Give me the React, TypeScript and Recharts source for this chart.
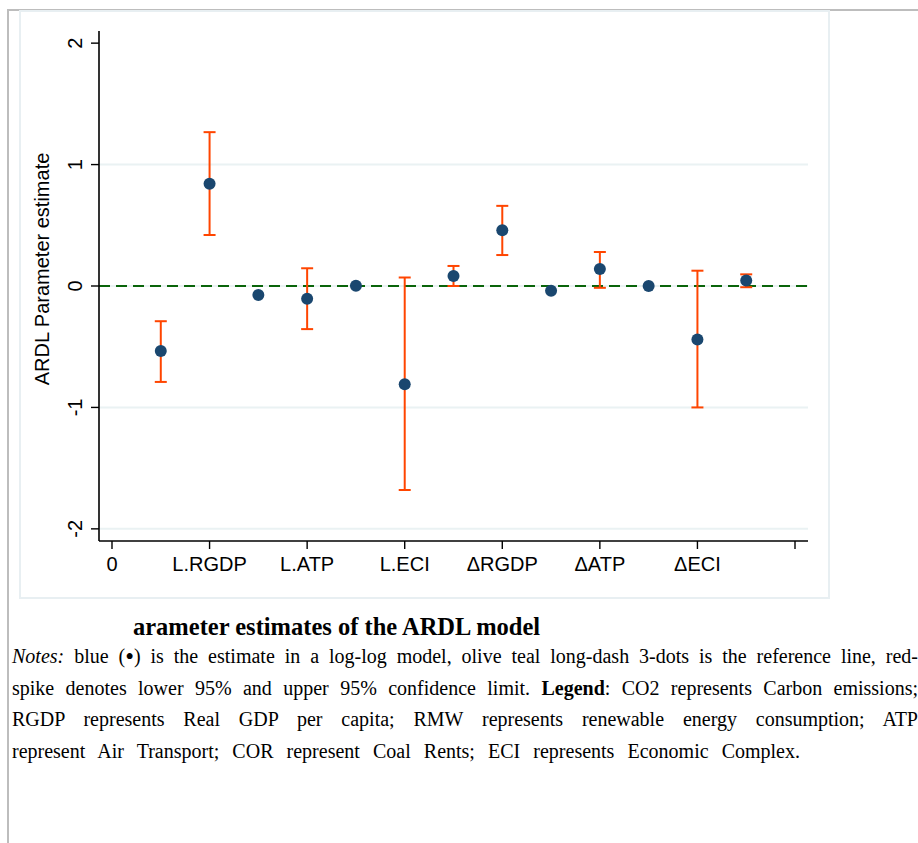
import React from 'react';
import { ComposedChart, Scatter, ErrorBar, XAxis, YAxis, ReferenceLine } from 'recharts';

const xPositions = [0.5, 1, 1.5, 2, 2.5, 3, 3.5, 4, 4.5, 5, 5.5, 6, 6.5];
const estimates = [-0.536, 0.843, -0.075, -0.105, 0.002, -0.81, 0.082, 0.46, -0.04, 0.14, 0.0, -0.44, 0.045];
const lowerCI: (number | null)[] = [-0.79, 0.42, null, -0.355, null, -1.68, 0.0, 0.255, null, -0.015, null, -1.0, -0.01];
const upperCI: (number | null)[] = [-0.29, 1.267, null, 0.146, null, 0.07, 0.165, 0.66, null, 0.28, null, 0.126, 0.096];

const xTickValues = [0, 1, 2, 3, 4, 5, 6, 7];
const xTickLabels = ['0', 'L.RGDP', 'L.ATP', 'L.ECI', '\u0394RGDP', '\u0394ATP', '\u0394ECI', ''];
const yTickValues = [-2, -1, 0, 1, 2];
const gridValues = [-2, -1, 0, 1];

const data = xPositions.map((x, i) => ({
  x,
  est: estimates[i],
  err:
    lowerCI[i] !== null && upperCI[i] !== null
      ? [estimates[i] - (lowerCI[i] as number), (upperCI[i] as number) - estimates[i]]
      : undefined,
}));

const SANS = '"Liberation Sans", Arial, sans-serif';
const SERIF = '"Liberation Serif", "Times New Roman", serif';

const YTick = (props: any) => {
  const { y, payload } = props;
  return (
    <text
      transform={`translate(75,${y}) rotate(-90)`}
      textAnchor="middle"
      dy="0.36em"
      fontFamily={SANS}
      fontSize={20}
      fill="#000"
    >
      {payload.value}
    </text>
  );
};

const Dot = (props: any) => {
  const { cx, cy } = props;
  return <circle cx={cx} cy={cy} r={6} fill="#1a476f" />;
};

const noteLine: React.CSSProperties = {
  height: 31.7,
  lineHeight: '31.7px',
  whiteSpace: 'nowrap',
  textAlign: 'justify',
  textAlignLast: 'justify',
};

export default function App() {
  return (
    <div style={{ position: 'absolute', left: 0, top: 0, width: 918, height: 843, background: '#fff', overflow: 'hidden' }}>
      <div style={{ position: 'absolute', left: 7, top: 9, width: 2, height: 834, background: '#bdbdbd' }} />
      <div style={{ position: 'absolute', left: 7, top: 9, width: 911, height: 2, background: '#bdbdbd' }} />
      <div
        style={{
          position: 'absolute',
          left: 19,
          top: 10,
          width: 811,
          height: 589,
          boxSizing: 'border-box',
          border: '2px solid #e8eff2',
          background: '#fff',
        }}
      />
      <div style={{ position: 'absolute', left: 0, top: 0 }}>
        <ComposedChart width={830} height={600} data={data} margin={{ top: 31, right: 22, bottom: 0, left: 0 }}>
          <XAxis
            dataKey="x"
            type="number"
            domain={[-0.1332, 7.1332]}
            ticks={xTickValues}
            tickFormatter={(v: number) => xTickLabels[xTickValues.indexOf(v)] ?? ''}
            height={59}
            tickSize={8}
            tickMargin={8}
            allowDataOverflow
            stroke="#000"
            axisLine={{ stroke: '#000', strokeWidth: 1.6 }}
            tickLine={{ stroke: '#000', strokeWidth: 1.4 }}
            tick={{ fontFamily: SANS, fontSize: 20, fill: '#000' }}
            interval={0}
          />
          <YAxis
            dataKey="est"
            type="number"
            domain={[-2.1, 2.1]}
            ticks={yTickValues}
            width={99}
            tickSize={8}
            tickMargin={2}
            allowDataOverflow
            axisLine={{ stroke: '#000', strokeWidth: 1.6 }}
            tickLine={{ stroke: '#000', strokeWidth: 1.4 }}
            tick={<YTick />}
            interval={0}
            label={{
              content: () => (
                <text
                  transform="translate(42,269) rotate(-90)"
                  textAnchor="middle"
                  dy="0.36em"
                  fontFamily={SANS}
                  fontSize={20}
                  fill="#000"
                >
                  ARDL Parameter estimate
                </text>
              ),
            }}
          />
          {gridValues.map((g) => (
            <ReferenceLine key={g} y={g} stroke="#eaf2f3" strokeWidth={2} />
          ))}
          <ReferenceLine y={0} stroke="#0a640a" strokeWidth={2} strokeDasharray="11 6" />
          <Scatter dataKey="est" shape={<Dot />} isAnimationActive={false}>
            <ErrorBar dataKey="err" direction="y" width={6} stroke="#ff4500" strokeWidth={2} isAnimationActive={false} />
          </Scatter>
        </ComposedChart>
      </div>
      <div
        style={{
          position: 'absolute',
          left: 133,
          top: 611,
          fontFamily: SERIF,
          fontWeight: 'bold',
          fontSize: 24.5,
          lineHeight: '32px',
          whiteSpace: 'nowrap',
          color: '#000',
        }}
      >
        arameter estimates of the ARDL model
      </div>
      <div
        style={{
          position: 'absolute',
          left: 12,
          top: 641,
          width: 906,
          fontFamily: SERIF,
          fontSize: 20,
          color: '#000',
        }}
      >
        <div style={noteLine}>
          <i>Notes:</i> blue (<span style={{ fontSize: '1.25em', lineHeight: '10px', verticalAlign: '-2px' }}>•</span>) is the estimate in a log-log model, olive teal long-dash 3-dots is the reference line, red-
        </div>
        <div style={noteLine}>
          spike denotes lower 95% and upper 95% confidence limit. <b>Legend</b>: CO2 represents Carbon emissions;
        </div>
        <div style={noteLine}>
          RGDP represents Real GDP per capita; RMW represents renewable energy consumption; ATP
        </div>
        <div style={{ ...noteLine, width: 788 }}>
          represent Air Transport; COR represent Coal Rents; ECI represents Economic Complex.
        </div>
      </div>
    </div>
  );
}
